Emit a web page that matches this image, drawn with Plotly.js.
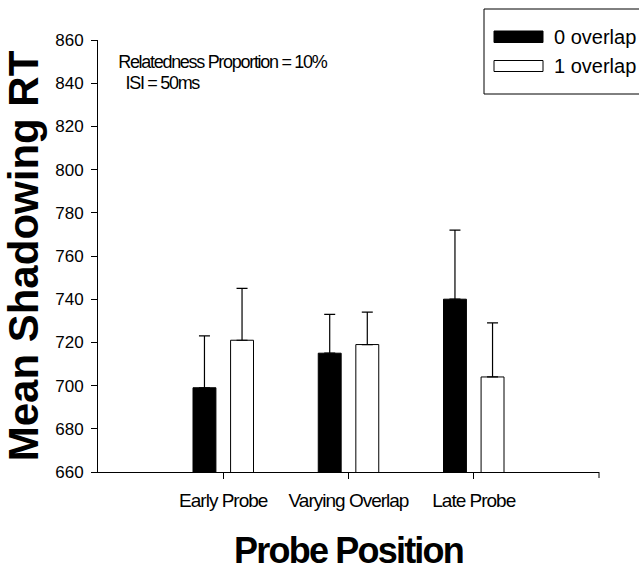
<!DOCTYPE html>
<html><head><meta charset="utf-8">
<script src="https://cdn.plot.ly/plotly-3.0.1.min.js"></script>
<style>
body{margin:0;background:#fff}
#chart{width:639px;height:571px}
.xtick text{letter-spacing:-1px}
.xtitle{letter-spacing:-1.8px}
.annotation[data-index="0"] text,.annotation[data-index="1"] text{letter-spacing:-1.3px}
</style></head><body><div id="chart"></div>
<script>
// ---- data ----
const categories = ['Early Probe', 'Varying Overlap', 'Late Probe'];
const seriesNames = ['0 overlap', '1 overlap'];
const overlap0 = [699, 715, 740];
const overlap0Err = [24, 18, 32];
const overlap1 = [721, 719, 704];
const overlap1Err = [24, 15, 25];
const yTickVals = [660, 680, 700, 720, 740, 760, 780, 800, 820, 840, 860];
const noteLines = ['Relatedness Proportion = 10%', 'ISI = 50ms'];
const xTitle = 'Probe Position';
const yTitle = 'Mean Shadowing RT';

// ---- layout helpers ----
const W = 639, H = 571;
const M = {l: 98, r: 40, t: 40, b: 99};
const PW = W - M.l - M.r, PH = H - M.t - M.b;
const px = x => (x - M.l) / PW;
const py = y => (H - M.b - y) / PH;
const FONT = 'Liberation Sans, Arial, sans-serif';

const zeros = categories.map(() => 0);
const errStyle = {color: '#000', thickness: 1.2, width: 5.5};

const traces = [
  {
    type: 'bar', name: seriesNames[0], x: categories, y: overlap0,
    marker: {color: '#000', line: {color: '#000', width: 1}},
    error_y: Object.assign({type: 'data', symmetric: false, array: overlap0Err, arrayminus: zeros}, errStyle),
    showlegend: false, hoverinfo: 'skip'
  },
  {
    type: 'bar', name: seriesNames[1], x: categories, y: overlap1,
    marker: {color: '#fff', line: {color: '#000', width: 1}},
    error_y: Object.assign({type: 'data', symmetric: false, array: overlap1Err, arrayminus: zeros}, errStyle),
    showlegend: false, hoverinfo: 'skip'
  }
];

const layout = {
  width: W, height: H,
  margin: M,
  paper_bgcolor: '#fff', plot_bgcolor: '#fff',
  font: {family: FONT, color: '#000'},
  barmode: 'group', bargap: 0.4, bargroupgap: 0.39,
  showlegend: false,
  xaxis: {
    type: 'category', range: [-1, 3],
    showline: true, linecolor: '#000', linewidth: 1,
    ticks: 'outside', ticklen: 6, tickcolor: '#000', tickwidth: 1,
    showgrid: false, zeroline: false, ticklabelstandoff: 5,
    tickfont: {family: FONT, size: 19, color: '#000'},
    title: {text: xTitle, font: {family: FONT, size: 36, weight: 700, color: '#000'}, standoff: 30}
  },
  yaxis: {
    range: [660, 860], tickmode: 'array', tickvals: yTickVals,
    showline: true, linecolor: '#000', linewidth: 1,
    ticks: 'outside', ticklen: 6, tickcolor: '#000', tickwidth: 1,
    showgrid: false, zeroline: false, ticklabelstandoff: 4,
    tickfont: {family: FONT, size: 17, color: '#000'},
    title: {text: yTitle, font: {family: FONT, size: 42, weight: 700, color: '#000'}, standoff: 6}
  },
  annotations: [
    {text: noteLines[0], xref: 'paper', yref: 'paper', x: px(222), y: py(62), xanchor: 'center', yanchor: 'middle', showarrow: false, font: {family: FONT, size: 18, color: '#000'}},
    {text: noteLines[1], xref: 'paper', yref: 'paper', x: px(162), y: py(82.5), xanchor: 'center', yanchor: 'middle', showarrow: false, font: {family: FONT, size: 18, color: '#000'}},
    {text: seriesNames[0], xref: 'paper', yref: 'paper', x: px(552), y: py(37), xanchor: 'left', yanchor: 'middle', showarrow: false, font: {family: FONT, size: 20, color: '#000'}},
    {text: seriesNames[1], xref: 'paper', yref: 'paper', x: px(552), y: py(66.5), xanchor: 'left', yanchor: 'middle', showarrow: false, font: {family: FONT, size: 20, color: '#000'}}
  ],
  shapes: [
    {type: 'rect', xref: 'paper', yref: 'paper', x0: px(484), x1: px(660), y0: py(94), y1: py(9), line: {color: '#000', width: 1}, fillcolor: 'rgba(0,0,0,0)'},
    {type: 'rect', xref: 'paper', yref: 'paper', x0: px(494), x1: px(543), y0: py(42.5), y1: py(31), line: {color: '#000', width: 1}, fillcolor: '#000'},
    {type: 'rect', xref: 'paper', yref: 'paper', x0: px(494), x1: px(543), y0: py(71.5), y1: py(60.5), line: {color: '#000', width: 1}, fillcolor: '#fff'},
    {type: 'line', xref: 'paper', yref: 'paper', x0: 1, x1: 1, y0: 0, y1: -6 / PH, line: {color: '#000', width: 1}}
  ]
};

Plotly.newPlot('chart', traces, layout, {staticPlot: true, displayModeBar: false});
</script></body></html>
